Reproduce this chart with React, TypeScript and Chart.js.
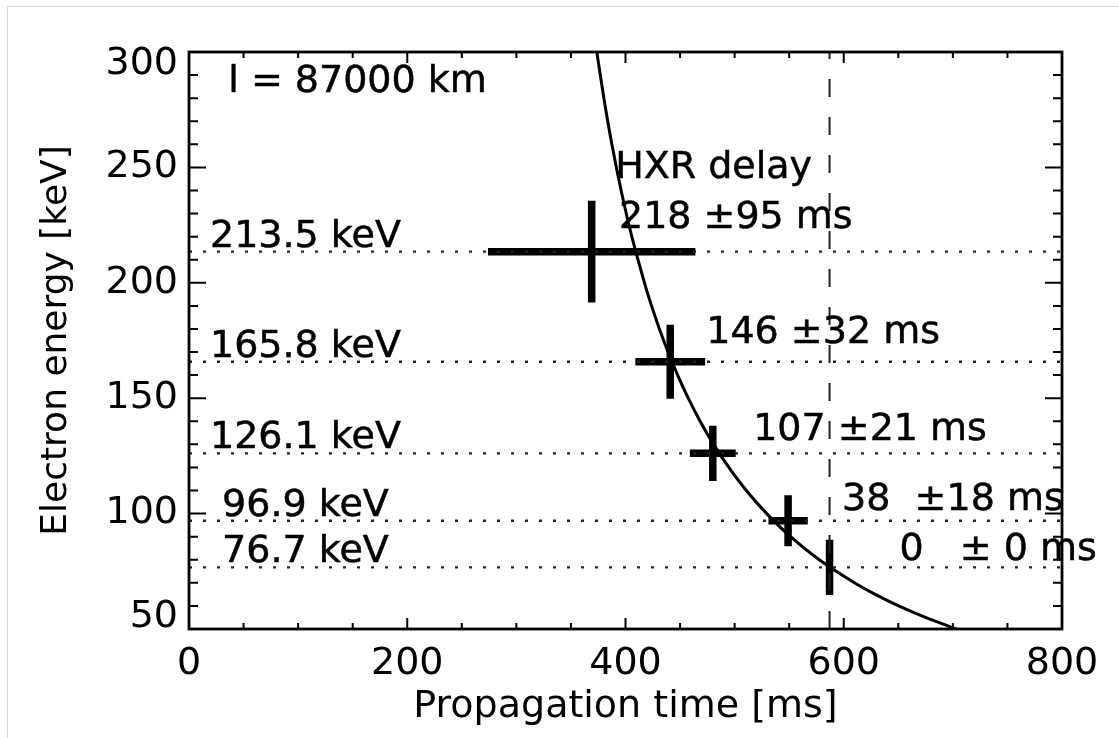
import React, { useEffect, useRef } from "react";
import { Chart, registerables } from "chart.js";

Chart.register(...registerables);

// ---- data ----
const loopLengthLabel = "l = 87000 km";
const delayHeader = "HXR delay";
const energies = [213.5, 165.8, 126.1, 96.9, 76.7]; // keV
const delays = [218, 146, 107, 38, 0]; // ms
const delayErrors = [95, 32, 21, 18, 0]; // ms
const referenceTime = 587; // ms (propagation time of lowest energy)
const energyHalfWidths = [22, 16, 12, 11, 12]; // keV
const curveEnergy = [50, 55, 60, 65, 70, 80, 90, 100, 110, 120, 130, 140, 150, 160, 170, 180, 190, 200, 220, 240, 260, 280, 300];
const curveTime = [703.2, 674.9, 650.3, 628.8, 609.8, 577.6, 551.3, 529.4, 510.7, 494.7, 480.7, 468.4, 457.5, 447.8, 439.0, 431.1, 423.9, 417.4, 405.8, 396.0, 387.5, 380.2, 373.7];
const xTickValues = [0, 200, 400, 600, 800];
const yTickValues = [50, 100, 150, 200, 250, 300];

// ---- layout (annotation anchors in data coordinates) ----
const headerAnchor = { x: 36, y: 282.7 };
const delayHeaderAnchor = { x: 390.5, y: 245.4 };
const delayLabelAnchors = [
  { x: 394, y: 223.7 },
  { x: 474, y: 173.9 },
  { x: 517, y: 131.9 },
  { x: 598.5, y: 101.6 },
  { x: 651, y: 79.9 },
];

const FONT = '"DejaVu Sans", "Liberation Sans", Arial, sans-serif';

const propagationTimes = delays.map((d) => referenceTime - d);

const energyLabel = (e: number) => `${e.toFixed(1).padStart(5)} keV`;
const delayLabel = (d: number, e: number) => `${String(d).padEnd(3)} \u00b1${String(e).padStart(2)} ms`;

const decorPlugin = {
  id: "decor",
  beforeDraw(chart: any) {
    const { ctx, width, height } = chart;
    ctx.save();
    ctx.fillStyle = "#ffffff";
    ctx.fillRect(0, 0, width, height);
    ctx.strokeStyle = "#d4d4d4";
    ctx.lineWidth = 1;
    ctx.beginPath();
    ctx.moveTo(7.5, height);
    ctx.lineTo(7.5, 6.5);
    ctx.lineTo(width, 6.5);
    ctx.stroke();
    ctx.restore();
  },
  afterDraw(chart: any) {
    const { ctx, chartArea } = chart;
    const xs = chart.scales.x;
    const ys = chart.scales.y;
    const { left, right, top, bottom } = chartArea;
    ctx.save();
    ctx.strokeStyle = "#000";
    ctx.lineWidth = 2.8;
    ctx.strokeRect(left, top, right - left, bottom - top);
    // inward ticks on all four sides
    ctx.lineWidth = 2;
    ctx.beginPath();
    for (let v = 0; v <= 800; v += 50) {
      const px = xs.getPixelForValue(v);
      const len = v % 200 === 0 ? 11 : 6;
      ctx.moveTo(px, bottom);
      ctx.lineTo(px, bottom - len);
      ctx.moveTo(px, top);
      ctx.lineTo(px, top + len);
    }
    for (let v = 50; v <= 300; v += 10) {
      const py = ys.getPixelForValue(v);
      const len = v % 50 === 0 ? 17 : 9;
      ctx.moveTo(left, py);
      ctx.lineTo(left + len, py);
      ctx.moveTo(right, py);
      ctx.lineTo(right - len, py);
    }
    ctx.stroke();

    // annotations
    ctx.fillStyle = "#000";
    ctx.strokeStyle = "#000";
    ctx.lineWidth = 0.5;
    ctx.font = `38px ${FONT}`;
    ctx.textAlign = "left";
    ctx.textBaseline = "alphabetic";
    const put = (s: string, x: number, y: number) => {
      ctx.fillText(s, x, y);
      ctx.strokeText(s, x, y);
    };
    put(loopLengthLabel, xs.getPixelForValue(headerAnchor.x), ys.getPixelForValue(headerAnchor.y));
    put(delayHeader, xs.getPixelForValue(delayHeaderAnchor.x), ys.getPixelForValue(delayHeaderAnchor.y));
    energies.forEach((e, i) => {
      put(energyLabel(e), left + 21, ys.getPixelForValue(e) - 5);
      const a = delayLabelAnchors[i];
      put(delayLabel(delays[i], delayErrors[i]), xs.getPixelForValue(a.x), ys.getPixelForValue(a.y));
    });
    ctx.restore();
  },
};

export default function App() {
  const canvasRef = useRef<HTMLCanvasElement | null>(null);

  useEffect(() => {
    const canvas = canvasRef.current;
    if (!canvas) return;

    const gap = (x: number) => ({ x, y: null as any });

    const levelLines = energies.flatMap((e) => [
      { x: 0, y: e },
      { x: 800, y: e },
      gap(800),
    ]);
    const hBars = energies.flatMap((e, i) => [
      { x: propagationTimes[i] - delayErrors[i], y: e },
      { x: propagationTimes[i] + delayErrors[i], y: e },
      gap(propagationTimes[i]),
    ]);
    const vBars = energies.flatMap((e, i) => [
      { x: propagationTimes[i], y: e - energyHalfWidths[i] },
      { x: propagationTimes[i], y: e + energyHalfWidths[i] },
      gap(propagationTimes[i]),
    ]);
    const curve = curveEnergy.map((e, i) => ({ x: curveTime[i], y: e }));

    const chart = new Chart(canvas, {
      type: "scatter",
      data: {
        datasets: [
          {
            label: "levels",
            data: levelLines,
            showLine: true,
            borderColor: "#222",
            borderWidth: 2.4,
            borderDash: [3, 11],
            pointRadius: 0,
            spanGaps: false,
          },
          {
            label: "reference",
            data: [
              { x: referenceTime, y: 50 },
              { x: referenceTime, y: 300 },
            ],
            showLine: true,
            borderColor: "#222",
            borderWidth: 2,
            borderDash: [18, 20],
            pointRadius: 0,
          },
          {
            label: "time of flight",
            data: curve,
            showLine: true,
            borderColor: "#000",
            borderWidth: 3,
            tension: 0.3,
            pointRadius: 0,
          },
          {
            label: "delay error",
            data: hBars,
            showLine: true,
            borderColor: "#000",
            borderWidth: 7.5,
            borderCapStyle: "butt",
            pointRadius: 0,
            spanGaps: false,
          },
          {
            label: "energy width",
            data: vBars,
            showLine: true,
            borderColor: "#000",
            borderWidth: 7.5,
            borderCapStyle: "butt",
            pointRadius: 0,
            spanGaps: false,
          },
        ],
      },
      options: {
        animation: false,
        responsive: false,
        devicePixelRatio: 1,
        layout: { padding: { left: 0, top: 52, right: 57, bottom: 0 } },
        plugins: {
          legend: { display: false },
          tooltip: { enabled: false },
        },
        scales: {
          x: {
            type: "linear",
            min: 0,
            max: 800,
            afterBuildTicks: (scale: any) => {
              scale.ticks = xTickValues.map((v) => ({ value: v }));
            },
            afterFit: (scale: any) => {
              scale.height = 109;
            },
            grid: { display: false, drawTicks: false },
            border: { display: false },
            ticks: {
              color: "#000",
              font: { family: FONT, size: 38 },
              padding: 12,
              maxRotation: 0,
              autoSkip: false,
            },
            title: {
              display: true,
              text: "Propagation time [ms]",
              color: "#000",
              font: { family: FONT, size: 38 },
              padding: { top: 0, bottom: 8 },
            },
          },
          y: {
            type: "linear",
            min: 50,
            max: 300,
            afterBuildTicks: (scale: any) => {
              scale.ticks = yTickValues.map((v) => ({ value: v }));
            },
            afterFit: (scale: any) => {
              scale.width = 189;
            },
            grid: { display: false, drawTicks: false },
            border: { display: false },
            ticks: {
              color: "#000",
              font: { family: FONT, size: 38, lineHeight: "24px" },
              padding: 11,
              autoSkip: false,
              callback: (value: any) => {
                const v = Number(value);
                if (v === yTickValues[yTickValues.length - 1]) return ["", String(v)];
                if (v === yTickValues[0]) return [String(v), ""];
                return String(v);
              },
            },
            title: {
              display: true,
              text: "Electron energy [keV]",
              color: "#000",
              font: { family: FONT, size: 36 },
              padding: { top: 35, bottom: 0 },
            },
          },
        },
      },
      plugins: [decorPlugin],
    });

    return () => chart.destroy();
  }, []);

  return (
    <div style={{ position: "fixed", left: 0, top: 0, width: 1119, height: 738, background: "#fff" }}>
      <canvas ref={canvasRef} width={1119} height={738} style={{ width: 1119, height: 738, display: "block" }} />
    </div>
  );
}
